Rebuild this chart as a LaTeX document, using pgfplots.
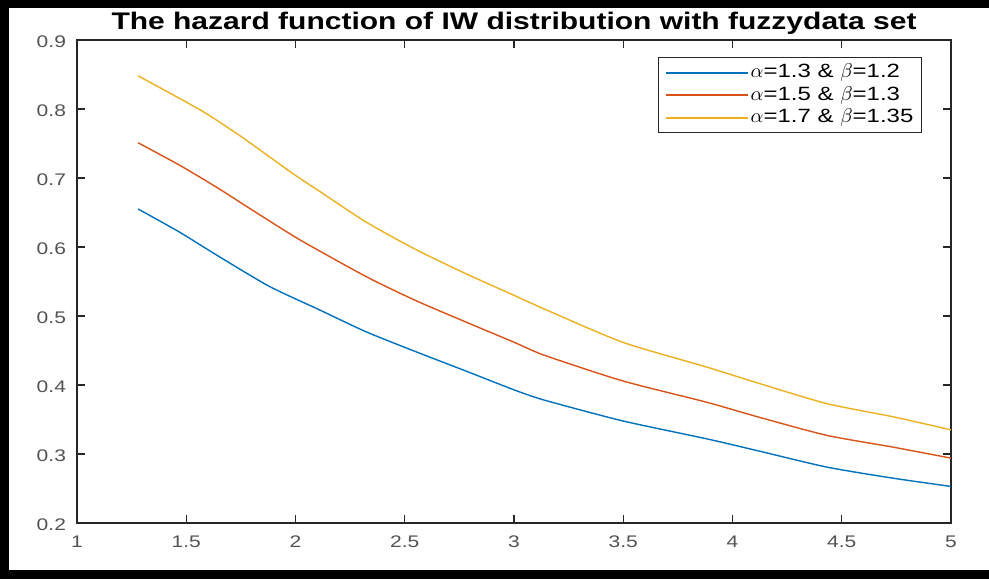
\documentclass[border=0pt]{standalone}
\usepackage{fontspec}
\setmainfont{Liberation Sans}[FakeStretch=1.25]
\usepackage{pgfplots}
\pgfplotsset{compat=1.18}

\definecolor{mblue}{rgb}{0,0.447,0.741}
\definecolor{mred}{rgb}{0.85,0.325,0.098}
\definecolor{myellow}{rgb}{0.929,0.694,0.125}
\definecolor{axgray}{rgb}{0.15,0.15,0.15}

\begin{document}
\begin{tikzpicture}
\begin{axis}[
  at={(38.5pt,28pt)}, anchor=south west,
  scale only axis,
  width=437pt, height=241.5pt,
  xmin=1, xmax=5, ymin=0.2, ymax=0.9,
  xtick={1,1.5,...,5},
  ytick={0.2,0.3,...,0.9},
  tick align=inside,
  major tick length=4pt,
  axis line style={axgray, line width=0.7pt},
  every tick/.style={axgray, line width=0.7pt},
  /pgf/number format/assume math mode=true,
  /pgf/number format/.cd, fixed, precision=1, /pgfplots/.cd,
  tick label style={font=\fontsize{8.4}{10}\selectfont, text=axgray!80},
  xticklabel style={yshift=-3pt},
  yticklabel style={xshift=-2pt, yshift=-1pt},
  title={\bfseries The hazard function of IW distribution with fuzzydata set},
  title style={font=\fontsize{12}{14}\selectfont, at={(0.5,1)}, anchor=south, yshift=-7pt},
  legend cell align=left,
  legend style={
    at={(0.9668,0.965)}, anchor=north east,
    draw=axgray, line width=0.6pt,
    font=\fontsize{9.6}{11}\selectfont,
    inner xsep=3pt, inner ysep=2pt,
    row sep=0.25pt,
    nodes={inner sep=1pt, text height=7pt, text depth=2pt},
    /tikz/column 2/.style={column sep=3pt},
  },
  legend image code/.code={%
    \draw[#1, line width=1pt] (0pt,0pt) -- (41pt,0pt);},
  every axis plot/.append style={line width=0.7pt, smooth, tension=0.4},
]
\addplot[mblue] table {
1.28  0.655
1.467 0.622
1.651 0.586
1.880 0.543
2.109 0.509
2.324 0.477
2.553 0.448
2.782 0.420
3.0   0.393
3.14  0.378
3.497 0.348
3.882 0.322
4.125 0.304
4.432 0.281
4.734 0.265
5.0   0.253
};
\addlegendentry{$\alpha$=1.3 \& $\beta$=1.2}
\addplot[mred] table {
1.28  0.751
1.467 0.719
1.637 0.687
1.800 0.654
2.017 0.611
2.324 0.557
2.553 0.522
2.782 0.491
3.0   0.462
3.14  0.443
3.497 0.406
3.882 0.375
4.125 0.353
4.432 0.327
4.734 0.310
5.0   0.294
};
\addlegendentry{$\alpha$=1.5 \& $\beta$=1.3}
\addplot[myellow] table {
1.28  0.848
1.573 0.797
1.765 0.757
1.985 0.707
2.109 0.681
2.324 0.636
2.553 0.596
2.782 0.561
3.0   0.530
3.14  0.510
3.497 0.462
3.882 0.426
4.125 0.402
4.432 0.373
4.734 0.354
5.0   0.335
};
\addlegendentry{$\alpha$=1.7 \& $\beta$=1.35}
\end{axis}
% outer frame on the left, top and bottom
\fill[black] (0pt,285.5pt) rectangle (494.5pt,289.5pt);
\fill[black] (0pt,0pt) rectangle (494.5pt,4.5pt);
\fill[black] (0pt,0pt) rectangle (4.5pt,289.5pt);
\pgfresetboundingbox
\useasboundingbox (0pt,0pt) rectangle (494.5pt,289.5pt);
\end{tikzpicture}
\end{document}
